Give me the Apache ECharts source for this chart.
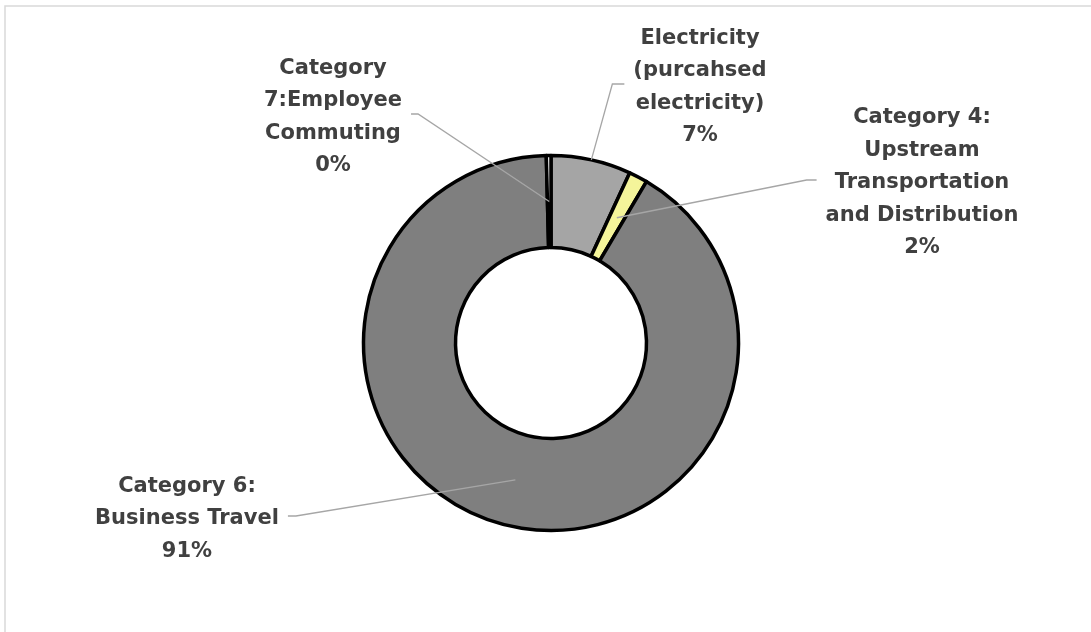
<!DOCTYPE html>
<html><head><meta charset="utf-8">
<script src="https://cdn.jsdelivr.net/npm/echarts@6/dist/echarts.min.js"></script>
<style>html,body{margin:0;padding:0;background:#fff}#c{width:1091px;height:632px}</style>
</head><body><div id="c"></div>
<script>
// Data
const categories = [
  'Electricity\n(purcahsed\nelectricity)',
  'Category 4:\nUpstream\nTransportation\nand Distribution',
  'Category 6:\nBusiness Travel',
  'Category\n7:Employee\nCommuting'
];
const values = [6.9, 1.6, 91.1, 0.4];
const sliceColors = ['#a5a5a5', '#f4f49a', '#7f7f7f', '#ffffff'];

// Layout (not data)
const CX = 551, CY = 343, R0 = 95.5, R = 187.5;
const labelSpots = [
  { x: 700, y: 87,  side: 'left',  anchorR: R,     elbow: 12 },
  { x: 922, y: 183, side: 'left',  anchorR: 141.5, elbow: 10 },
  { x: 187, y: 519, side: 'right', anchorR: 141.5, elbow: 8 },
  { x: 333, y: 117, side: 'right', anchorR: 141.5, elbow: 7 }
];

const common = {
  type: 'pie',
  center: [CX, CY],
  radius: [R0, R],
  startAngle: 90,
  clockwise: true,
  avoidLabelOverlap: false,
  emphasis: { disabled: true },
  silent: true
};

const chart = echarts.init(document.getElementById('c'), null, { renderer: 'canvas' });
chart.setOption({
  animation: false,
  backgroundColor: '#ffffff',
  graphic: [{
    type: 'rect', silent: true, z: -10,
    shape: { x: 5, y: 6, width: 1200, height: 800 },
    style: { fill: 'none', stroke: '#d9d9d9', lineWidth: 1.5 }
  }],
  series: [
    Object.assign({}, common, {
      name: 'ring',
      z: 2,
      itemStyle: { borderColor: '#000000', borderWidth: 3.5 },
      label: { show: false },
      labelLine: { show: false },
      data: categories.map((c, i) => ({ name: c, value: values[i], itemStyle: { color: sliceColors[i] } }))
    }),
    Object.assign({}, common, {
      name: 'labels',
      z: 5,
      itemStyle: { color: 'rgba(0,0,0,0)', borderWidth: 0 },
      label: {
        show: true,
        position: 'outside',
        color: '#404040',
        fontFamily: 'DejaVu Sans',
        fontWeight: 'bold',
        fontSize: 21,
        lineHeight: 32.5,
        align: 'center',
        formatter: p => p.name + '\n' + Math.round(p.percent) + '%'
      },
      labelLine: { show: true, lineStyle: { color: '#a6a6a6', width: 1.3 } },
      labelLayout: function (p) {
        const s = labelSpots[p.dataIndex];
        const w = p.labelRect.width;
        const p0 = p.labelLinePoints[0];
        const k = s.anchorR / R;
        const ax = CX + (p0[0] - CX) * k, ay = CY + (p0[1] - CY) * k;
        const endX = s.side === 'left' ? s.x - w / 2 - 9 : s.x + w / 2 + 9;
        const elbowX = s.side === 'left' ? endX - s.elbow : endX + s.elbow;
        return {
          x: s.x, y: s.y, align: 'center', verticalAlign: 'middle',
          labelLinePoints: [[ax, ay], [elbowX, s.y - 3], [endX, s.y - 3]]
        };
      },
      data: categories.map((c, i) => ({ name: c, value: values[i] }))
    })
  ]
});
</script>
</body></html>
